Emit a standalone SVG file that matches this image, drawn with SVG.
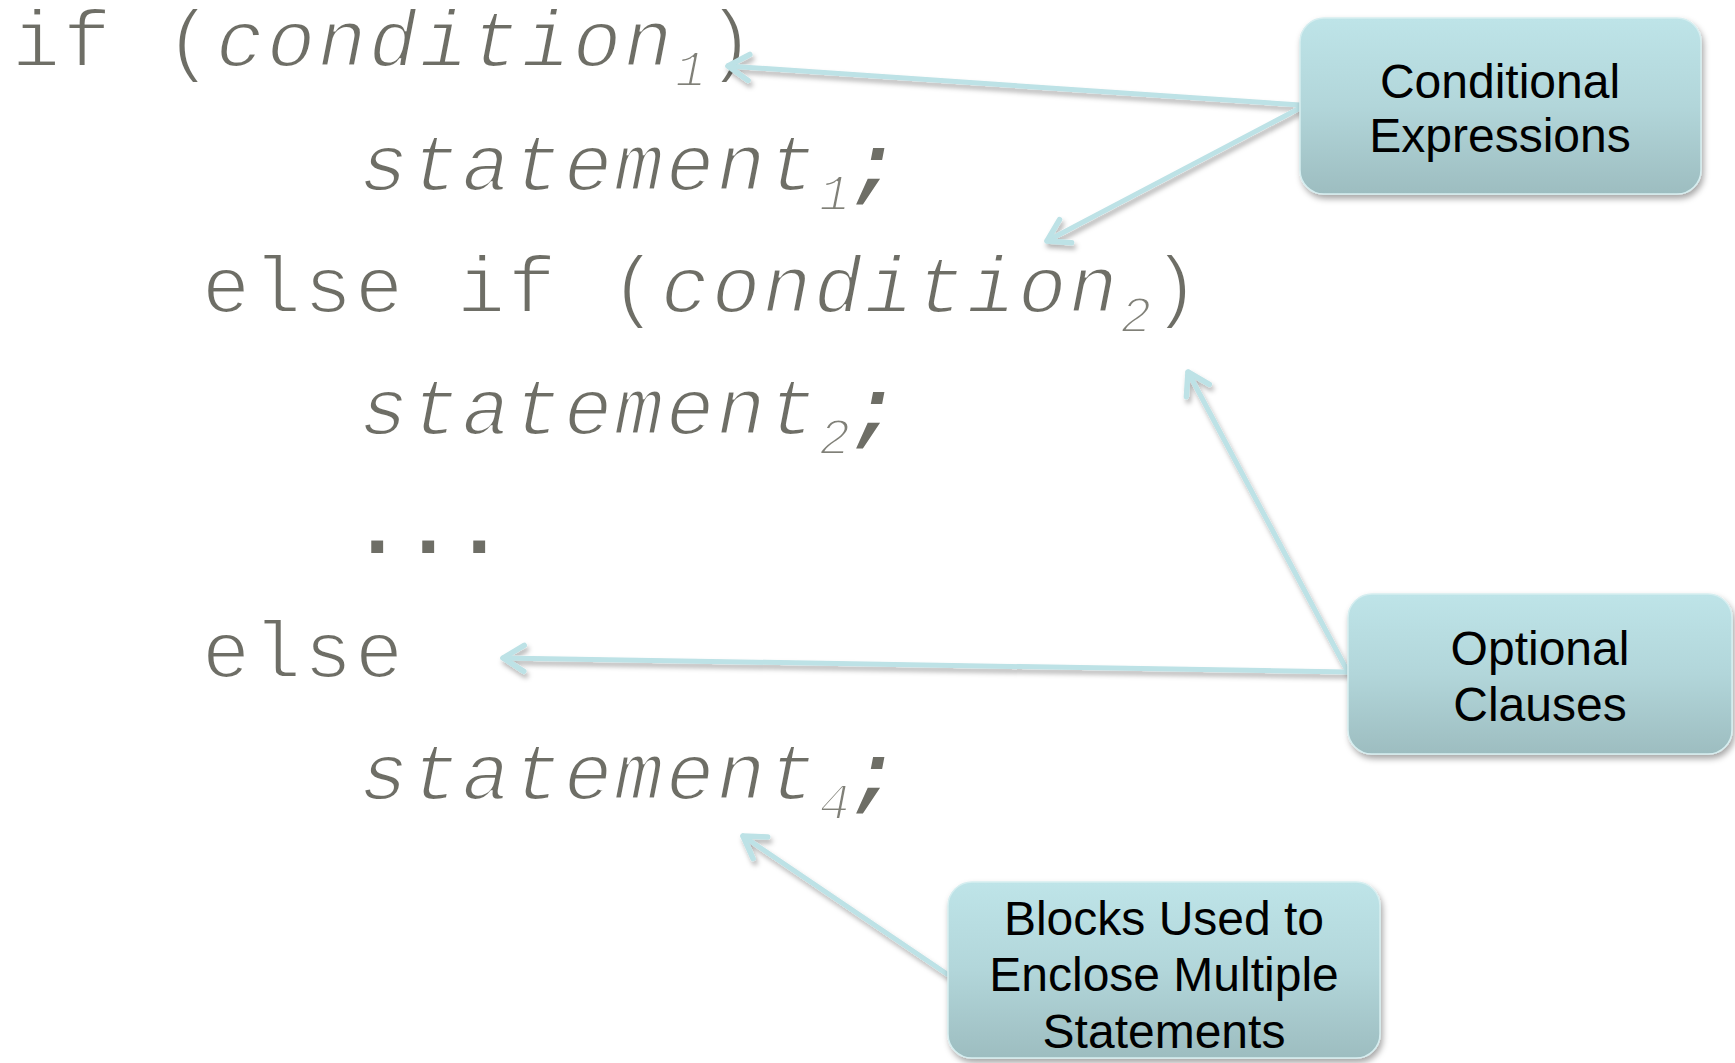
<svg xmlns="http://www.w3.org/2000/svg" width="1735" height="1063" viewBox="0 0 1735 1063">
  <defs>
    <linearGradient id="boxFill" x1="0" y1="0" x2="0" y2="1">
      <stop offset="0" stop-color="#bee4e8"/>
      <stop offset="0.5" stop-color="#b2d6da"/>
      <stop offset="1" stop-color="#9dbdc0"/>
    </linearGradient>
    <filter id="boxShadow" x="-10%" y="-10%" width="125%" height="130%">
      <feDropShadow dx="2" dy="4" stdDeviation="3" flood-color="#000" flood-opacity="0.35"/>
    </filter>
    <filter id="lineShadow" x="-10%" y="-10%" width="120%" height="130%">
      <feDropShadow dx="2" dy="4" stdDeviation="2.5" flood-color="#000" flood-opacity="0.3"/>
    </filter>
    <marker id="head" markerUnits="userSpaceOnUse" orient="auto" overflow="visible" refX="0" refY="0" markerWidth="1" markerHeight="1">
      <path d="M-21,-13 L0,0 L-21,13" fill="none" stroke="#bde2e6" stroke-width="5.5" stroke-linecap="round" stroke-linejoin="round"/>
    </marker>
  </defs>
  <style>
    /* thin monospace: a white outline trims the glyph strokes */
    .code { font-family: "Liberation Mono", "Courier New", monospace; font-size: 80px; letter-spacing: 3px; fill: #6e6e66; stroke: #fff; stroke-width: 2px; }
    .it { font-style: italic; }
    .sub { font-size: 52px; font-style: italic; letter-spacing: 0; fill: #808078; }
    .semi { font-weight: bold; font-style: italic; stroke: none; }
    .dots { font-weight: bold; stroke: none; font-size: 84px; letter-spacing: 0.6px; }
    .box { fill: url(#boxFill); stroke: #d6eef0; stroke-width: 1.5; filter: url(#boxShadow); }
    .label { font-family: "Liberation Sans", Arial, sans-serif; font-size: 48px; fill: #000; text-anchor: middle; }
    .conn { fill: none; stroke: #bde2e6; stroke-width: 5; stroke-linecap: round; marker-end: url(#head); }
  </style>

  <!-- code listing -->
  <g id="code">
    <text class="code" x="12" y="66">if (<tspan class="it">condition</tspan><tspan class="sub" dy="20">1</tspan><tspan dy="-20">)</tspan></text>
    <text class="code" x="360" y="190"><tspan class="it">statement</tspan><tspan class="sub" dy="20">1</tspan><tspan class="semi" dy="-20">;</tspan></text>
    <text class="code" x="202" y="312">else if (<tspan class="it">condition</tspan><tspan class="sub" dy="20">2</tspan><tspan dy="-20">)</tspan></text>
    <text class="code" x="360" y="434"><tspan class="it">statement</tspan><tspan class="sub" dy="20">2</tspan><tspan class="semi" dy="-20">;</tspan></text>
    <text class="code dots" x="352" y="553">...</text>
    <text class="code" x="202" y="677">else</text>
    <text class="code" x="360" y="799"><tspan class="it">statement</tspan><tspan class="sub" dy="20">4</tspan><tspan class="semi" dy="-20">;</tspan></text>
  </g>

  <!-- connectors -->
  <g id="connectors" filter="url(#lineShadow)">
    <path class="conn" d="M1300,105 L728,66"/>
    <path class="conn" d="M1300,108 L1047,241"/>
    <path class="conn" d="M1348,672 L1188,372"/>
    <path class="conn" d="M1348,672 L503,658"/>
    <path class="conn" d="M947,974 L743,836"/>
  </g>

  <!-- callouts -->
  <g id="conditional-expressions">
    <rect class="box" x="1300" y="18" width="401" height="176" rx="24"/>
    <text class="label" x="1500" y="98">Conditional</text>
    <text class="label" x="1500" y="152">Expressions</text>
  </g>
  <g id="optional-clauses">
    <rect class="box" x="1348" y="594" width="384" height="160" rx="24"/>
    <text class="label" x="1540" y="665">Optional</text>
    <text class="label" x="1540" y="721">Clauses</text>
  </g>
  <g id="blocks">
    <rect class="box" x="948" y="882" width="432" height="176" rx="24"/>
    <text class="label" x="1164" y="935">Blocks Used to</text>
    <text class="label" x="1164" y="991">Enclose Multiple</text>
    <text class="label" x="1164" y="1048">Statements</text>
  </g>
</svg>
